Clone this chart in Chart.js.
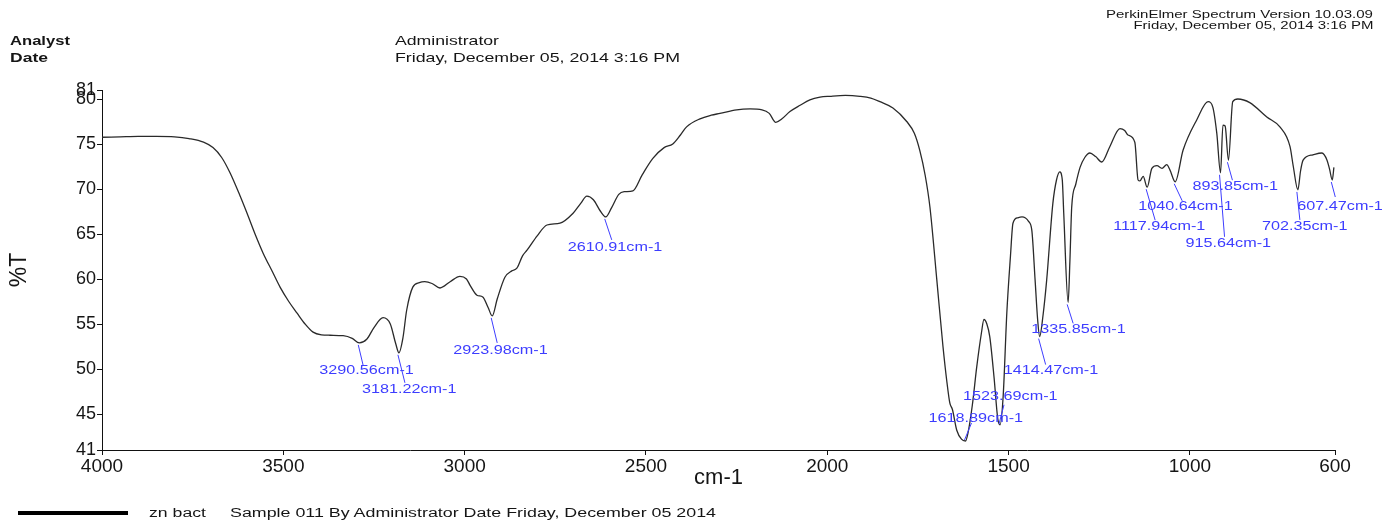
<!DOCTYPE html>
<html>
<head>
<meta charset="utf-8">
<script src="https://cdn.jsdelivr.net/npm/chart.js@4.4.1/dist/chart.umd.min.js"></script>
<style>
  html, body { margin: 0; padding: 0; background: #fff; }
  #marco { position: relative; width: 1392px; height: 523px; overflow: hidden; font-family: "Liberation Sans", Arial, sans-serif; }
  #grafico { position: absolute; left: 0; top: 0; }
  .txt { position: absolute; white-space: nowrap; line-height: 1; color: #151515; transform-origin: left center; }
  .der { transform-origin: right center; }
  .neg { font-weight: bold; }
  #trazo { position: absolute; left: 18px; top: 511px; width: 110px; height: 4px; background: #000; }
</style>
</head>
<body>
<div id="marco">
  <canvas id="grafico" width="1392" height="523" style="width:1392px;height:523px"></canvas>

  <div class="txt der" style="right:19px; top:10px; font-size:10px" data-w="267">PerkinElmer Spectrum Version 10.03.09</div>
  <div class="txt der" style="right:19px; top:21px; font-size:10px" data-w="240">Friday, December 05, 2014 3:16 PM</div>

  <div class="txt neg" style="left:10px; top:34px; font-size:13px" data-w="60">Analyst</div>
  <div class="txt neg" style="left:10px; top:51px; font-size:13px" data-w="38">Date</div>
  <div class="txt" style="left:395px; top:34px; font-size:13px" data-w="104">Administrator</div>
  <div class="txt" style="left:395px; top:51px; font-size:13px" data-w="285">Friday, December 05, 2014 3:16 PM</div>

  <div id="trazo"></div>
  <div class="txt" style="left:149px; top:507px; font-size:12px" data-w="57">zn bact</div>
  <div class="txt" style="left:230px; top:507px; font-size:12px" data-w="486">Sample 011 By Administrator Date Friday, December 05 2014</div>
</div>

<script>
// Datos del espectro (numero de onda en cm-1, %T)
const numerosOnda = [
  4000, 3950, 3900, 3850, 3800, 3760, 3720, 3694, 3670, 3647,
  3620, 3600, 3578, 3556, 3530, 3509, 3485, 3462, 3440, 3418,
  3395, 3371, 3335, 3310, 3290.56, 3270, 3250, 3225, 3205, 3190,
  3181.22, 3170, 3160, 3143, 3125, 3110, 3090, 3068, 3040, 3013,
  2995, 2985, 2966, 2950, 2935, 2923.98, 2910, 2889, 2870, 2856,
  2840, 2828, 2800, 2773, 2737, 2701, 2680, 2663, 2645, 2625,
  2610.91, 2595, 2575, 2560, 2536, 2510, 2481, 2450, 2426, 2405,
  2388, 2351, 2320, 2296, 2250, 2213, 2180, 2160, 2142, 2125,
  2103, 2075, 2048, 2020, 1993, 1950, 1910, 1880, 1855, 1819,
  1781, 1760, 1745, 1730, 1717, 1698, 1681, 1670, 1662, 1655,
  1643, 1630, 1618.89, 1612, 1600, 1588, 1575, 1568, 1560, 1552,
  1540, 1530, 1523.69, 1515, 1505, 1495, 1488, 1475, 1463, 1445,
  1436, 1427, 1420, 1414.47, 1405, 1395, 1378, 1368, 1359, 1352,
  1348, 1335.85, 1331, 1326, 1315, 1303, 1290, 1276, 1260, 1243,
  1221, 1193, 1180, 1171, 1152, 1143, 1138, 1129, 1117.94, 1105,
  1091, 1077, 1064, 1055, 1040.64, 1019, 981, 950, 937, 926,
  915.64, 909, 903, 893.85, 882, 868, 835, 788, 752, 724,
  715, 702.35, 695, 688, 661, 636, 622, 615, 607.47, 603
];
const transmitancia = [
  75.75, 75.8, 75.85, 75.85, 75.8, 75.6, 75.2, 74.6, 73.5, 71.8,
  69.3, 67.3, 65.0, 62.9, 60.8, 59.1, 57.5, 56.2, 55.0, 54.1,
  53.8, 53.75, 53.7, 53.4, 52.9, 53.3, 54.6, 55.7, 55.0, 52.8,
  51.8, 53.5, 56.5, 59.1, 59.6, 59.7, 59.5, 59.0, 59.7, 60.3,
  60.0, 59.3, 58.2, 58.0, 56.8, 55.9, 57.8, 60.2, 60.9, 61.2,
  62.6, 63.2, 64.8, 66.0, 66.2, 67.3, 68.4, 69.2, 68.8, 67.5,
  66.9, 67.9, 69.4, 69.7, 69.8, 71.6, 73.4, 74.6, 75.0, 76.0,
  76.9, 77.8, 78.2, 78.4, 78.8, 78.9, 78.8, 78.4, 77.4, 77.8,
  78.6, 79.3, 79.9, 80.2, 80.3, 80.4, 80.3, 80.1, 79.7, 79.0,
  77.5, 76.2, 74.3, 71.5, 68.0, 59.9, 52.5, 48.5, 46.2, 45.5,
  43.2, 42.2, 42.0, 42.9, 46.0, 50.2, 54.0, 55.5, 55.0, 53.6,
  49.0, 44.5, 43.8, 47.0, 56.2, 62.5, 66.2, 66.8, 66.9, 66.4,
  65.4, 59.9, 55.5, 53.6, 56.0, 59.9, 68.4, 71.0, 71.9, 71.0,
  67.3, 57.4, 62.0, 68.0, 70.5, 72.4, 73.5, 74.0, 73.6, 73.0,
  74.7, 76.7, 76.5, 76.0, 75.2, 71.0, 70.9, 71.4, 70.2, 72.3,
  72.6, 72.3, 72.7, 72.1, 70.8, 74.3, 77.7, 79.7, 79.1, 76.2,
  71.8, 77.1, 77.0, 73.2, 79.7, 80.0, 79.6, 78.0, 76.9, 74.7,
  72.5, 69.9, 72.0, 73.2, 73.8, 74.0, 73.2, 72.2, 71.0, 72.4
];

// Picos marcados
const picosOnda = [3290.56, 3181.22, 2923.98, 2610.91, 1618.89, 1523.69, 1414.47,
  1335.85, 1117.94, 1040.64, 915.64, 893.85, 702.35, 607.47];
const picosT = [52.9, 51.8, 55.9, 66.9, 42.0, 43.8, 53.6,
  57.4, 70.2, 70.8, 71.8, 73.2, 69.9, 71.0];

const ticksX = [4000, 3500, 3000, 2500, 2000, 1500, 1000, 600];
const ticksY = [41, 45, 50, 55, 60, 65, 70, 75, 80, 81];

// desplazamiento de cada etiqueta respecto al pico: [lineaDx, lineaDy, textoDx, textoDy]
const etiquetasOffset = [
  [4, 23, -40, 28], [6, 30, -37, 37], [5, 27, -39, 35], [6, 23, -38, 31],
  [6, -18, -37, -22], [4, -20, -37, -28], [6, 28, -36, 34], [5, 21, -37, 27],
  [8, 33, -34, 39], [7, 19, -37, 25], [4, 64, -35, 71], [4, 20, -36, 26],
  [2, 30, -36, 37], [3, 17, -35, 27]
];

const fuente = '"Liberation Sans", Arial, sans-serif';
const azul = '#3d3dff';

// Ajustar el ancho de los textos de cabecera
document.querySelectorAll('.txt[data-w]').forEach(el => {
  const ancho = el.getBoundingClientRect().width;
  el.style.transform = 'scaleX(' + (Number(el.dataset.w) / ancho) + ')';
});

const pluginPicos = {
  id: 'picos',
  afterDatasetsDraw(chart) {
    const { ctx, scales: { x, y } } = chart;
    ctx.save();
    ctx.strokeStyle = azul;
    ctx.fillStyle = azul;
    ctx.lineWidth = 1;
    ctx.font = '12px ' + fuente;
    ctx.textBaseline = 'middle';
    picosOnda.forEach((w, i) => {
      const px = x.getPixelForValue(w);
      const py = y.getPixelForValue(picosT[i]);
      const [lx, ly, tx, ty] = etiquetasOffset[i];
      ctx.beginPath();
      ctx.moveTo(px - 1, py + (ly > 0 ? 2 : -1));
      ctx.lineTo(px + lx, py + ly);
      ctx.stroke();
      ctx.save();
      ctx.translate(px + tx, py + ty);
      ctx.scale(1.35, 1);
      ctx.fillText(w.toFixed(2) + 'cm-1', 0, 0);
      ctx.restore();
    });
    ctx.restore();
  }
};

const ctxGrafico = document.getElementById('grafico');
new Chart(ctxGrafico, {
  type: 'line',
  data: {
    datasets: [{
      label: 'zn bact',
      data: numerosOnda.map((w, i) => ({ x: w, y: transmitancia[i] })),
      borderColor: '#2a2a2a',
      borderWidth: 1.3,
      pointRadius: 0,
      fill: false,
      cubicInterpolationMode: 'monotone'
    }]
  },
  options: {
    responsive: false,
    animation: false,
    layout: { padding: { top: 90, right: 57, bottom: 0, left: 0 } },
    plugins: {
      legend: { display: false },
      tooltip: { enabled: false }
    },
    scales: {
      x: {
        type: 'linear',
        min: 600,
        max: 4000,
        reverse: true,
        afterBuildTicks: s => { s.ticks = ticksX.map(v => ({ value: v })); },
        afterFit: s => { s.height = 73; },
        grid: { drawOnChartArea: false, drawTicks: true, tickLength: 5, color: '#111' },
        border: { color: '#111', width: 1 },
        ticks: {
          color: '#151515', font: { family: fuente, size: 19 }, padding: 0, maxRotation: 0, autoSkip: false,
          callback: v => String(v)
        },
        title: { display: true, text: 'cm-1', color: '#151515', font: { family: fuente, size: 22 }, padding: { top: 32, bottom: 32 } }
      },
      y: {
        min: 41,
        max: 81,
        afterBuildTicks: s => { s.ticks = ticksY.map(v => ({ value: v })); },
        afterFit: s => { s.width = 102; },
        grid: { drawOnChartArea: false, drawTicks: true, tickLength: 5, color: '#111' },
        border: { color: '#111', width: 1 },
        ticks: { color: '#151515', font: { family: fuente, size: 18 }, padding: 1, autoSkip: false, callback: v => String(v) },
        title: { display: true, text: '%T', color: '#151515', font: { family: fuente, size: 23 }, padding: { top: 6, bottom: 6 } }
      }
    }
  },
  plugins: [pluginPicos]
});
</script>
</body>
</html>
